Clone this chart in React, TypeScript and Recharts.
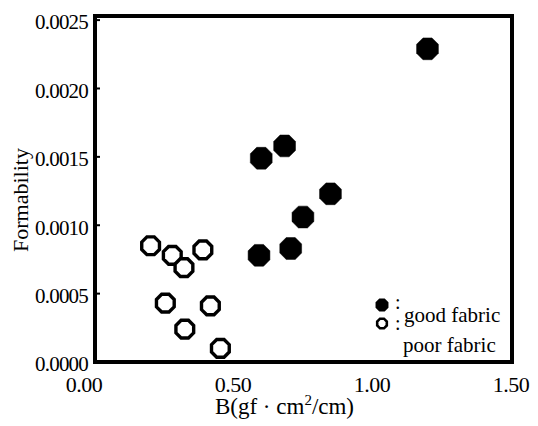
import React from 'react';
import { ScatterChart, Scatter, XAxis, YAxis, ReferenceArea, Legend } from 'recharts';

const goodX = [1.196, 0.598, 0.682, 0.847, 0.748, 0.590, 0.704];
const goodY = [0.00229, 0.00149, 0.00158, 0.00123, 0.00106, 0.00078, 0.00083];
const poorX = [0.200, 0.278, 0.320, 0.388, 0.253, 0.415, 0.323, 0.451];
const poorY = [0.00085, 0.00078, 0.00069, 0.00082, 0.00043, 0.00041, 0.00024, 0.00010];
const xTicks = [0, 0.5, 1.0, 1.5];
const yTicks = [0, 0.0005, 0.001, 0.0015, 0.002, 0.0025];
const seriesNames = ['good fabric', 'poor fabric'];

const goodData = goodX.map((x, i) => ({ x, y: goodY[i] }));
const poorData = poorX.map((x, i) => ({ x, y: poorY[i] }));

const FONT = 'Liberation Serif';
const Y_MAX = 0.00253;

function octPoints(cx: number, cy: number, r: number) {
  const pts: string[] = [];
  for (let k = 0; k < 8; k++) {
    const a = (Math.PI / 8) + (k * Math.PI) / 4;
    pts.push(`${cx + r * Math.cos(a)},${cy + r * Math.sin(a)}`);
  }
  return pts.join(' ');
}

const FilledOct = (props: any) => {
  const { cx, cy } = props;
  if (cx == null || cy == null) return null;
  return <polygon points={octPoints(cx, cy, 11.8)} fill="#000" stroke="#000" strokeWidth={0.5} />;
};

const OpenOct = (props: any) => {
  const { cx, cy } = props;
  if (cx == null || cy == null) return null;
  return <polygon points={octPoints(cx, cy, 9.6)} fill="#fff" stroke="#000" strokeWidth={3.4} />;
};

const YTick = (props: any) => {
  const { x, y, payload } = props;
  return (
    <g>
      <line x1={x + 7} y1={y} x2={x + 12} y2={y} stroke="#000" strokeWidth={2} />
      <text x={x} y={y + 2} dy="0.35em" textAnchor="end" fontFamily={FONT} fontSize={21} fill="#000" letterSpacing={-0.8}>
        {Number(payload.value).toFixed(4)}
      </text>
    </g>
  );
};

const XTick = (props: any) => {
  const { x, y, payload } = props;
  const shift = payload.value === 0 ? -11 : -1;
  return (
    <text x={x + shift} y={y} dy="0.71em" textAnchor="middle" fontFamily={FONT} fontSize={22} fill="#000" letterSpacing={-0.5}>
      {Number(payload.value).toFixed(2)}
    </text>
  );
};

const XLabel = (props: any) => {
  const vb = props.viewBox || {};
  const cx = vb.x + vb.width / 2 - 19;
  return (
    <text x={cx} y={406} textAnchor="middle" fontFamily={FONT} fontSize={23} fill="#000">
      {'B(gf \u00b7 cm'}
      <tspan fontSize={15} dy={-9}>2</tspan>
      <tspan dy={9}>/cm)</tspan>
    </text>
  );
};

const YLabel = (props: any) => {
  const vb = props.viewBox || {};
  const cy = vb.y + vb.height / 2 + 11;
  return (
    <text x={12} y={cy} transform={`rotate(-90, 12, ${cy})`} textAnchor="middle" dominantBaseline="central" fontFamily={FONT} fontSize={22} fill="#000">
      Formability
    </text>
  );
};

const LegendContent = () => (
  <svg width={530} height={418} style={{ position: 'absolute', left: 0, top: 0 }}>
    <polygon points={octPoints(374, 297, 7)} fill="#000" />
    <polygon points={octPoints(374, 315.5, 5.2)} fill="#fff" stroke="#000" strokeWidth={2.6} />
    <text x={387} y={301} fontFamily={FONT} fontSize={20} fill="#000">:</text>
    <text x={387} y={322} fontFamily={FONT} fontSize={20} fill="#000">:</text>
    <text x={396} y={314} fontFamily={FONT} fontSize={21} fill="#000">{seriesNames[0]}</text>
    <text x={395} y={344} fontFamily={FONT} fontSize={21} fill="#000">{seriesNames[1]}</text>
  </svg>
);

export default function App() {
  return (
    <ScatterChart width={530} height={418} margin={{ top: 8, right: 26, bottom: 8, left: 0 }}>
      <XAxis
        type="number"
        dataKey="x"
        domain={[0, 1.5]}
        ticks={xTicks}
        height={56}
        tickSize={4}
        tickMargin={10}
        tickLine={false}
        axisLine={false}
        tick={<XTick />}
        label={<XLabel />}
        interval={0}
      />
      <YAxis
        type="number"
        dataKey="y"
        domain={[0, Y_MAX]}
        ticks={yTicks}
        width={87}
        tickSize={4}
        tickMargin={3}
        tickLine={false}
        axisLine={false}
        tick={<YTick />}
        label={<YLabel />}
        interval={0}
      />
      <ReferenceArea x1={0} x2={1.5} y1={0} y2={Y_MAX} fill="none" stroke="#000" strokeWidth={4} ifOverflow="visible" />
      <Legend
        layout="horizontal"
        verticalAlign="middle"
        align="center"
        content={<LegendContent />}
        wrapperStyle={{ position: 'absolute', left: 0, top: 0, width: 530, height: 418, pointerEvents: 'none' }}
      />
      <Scatter name={seriesNames[0]} data={goodData} shape={<FilledOct />} isAnimationActive={false} />
      <Scatter name={seriesNames[1]} data={poorData} shape={<OpenOct />} isAnimationActive={false} />
    </ScatterChart>
  );
}
